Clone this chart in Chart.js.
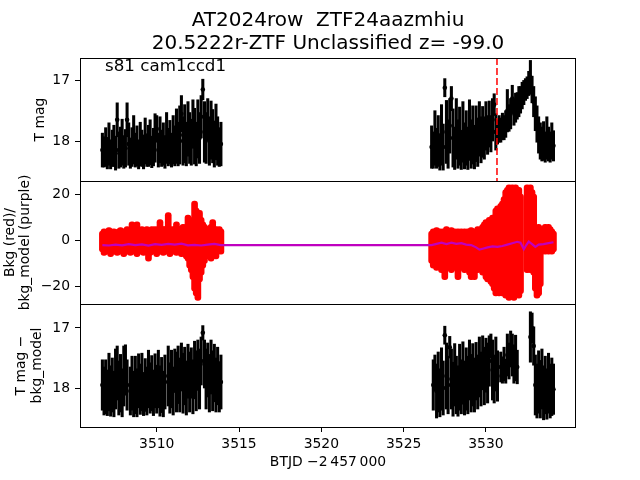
<!DOCTYPE html>
<html>
<head>
<meta charset="utf-8">
<script src="https://cdn.jsdelivr.net/npm/chart.js@4.4.1/dist/chart.umd.min.js"></script>
<style>
body { margin: 0; background: #fff; }
#wrap { position: relative; width: 640px; height: 480px; }
#wrap canvas { position: absolute; left: 0; top: 0; }
</style>
</head>
<body>
<div id="wrap">
  <canvas id="magChart" width="640" height="480"></canvas>
  <canvas id="bkgChart" width="640" height="480"></canvas>
  <canvas id="detChart" width="640" height="480"></canvas>
</div>
<script>
// axis ranges and ticks
const BTJD_MIN = 3505.34, BTJD_MAX = 3535.47;
const MAG_MIN = 16.63, MAG_MAX = 18.66;
const BKG_MIN = -27.5, BKG_MAX = 25.7;
const DET_MIN = 16.6, DET_MAX = 18.65;
const TICKS_BTJD = [3510, 3515, 3520, 3525, 3530];
const TICKS_MAG = [17, 18];
const TICKS_BKG = [-20, 0, 20];
const FLARE_BTJD = 3530.67;

// first sector chunk
const btjdS1 = [
  3506.7,3506.8,3506.9,3507.0,3507.1,3507.2,3507.3,3507.4,3507.5,3507.6,
  3507.7,3507.8,3507.9,3508.0,3508.1,3508.2,3508.3,3508.4,3508.5,3508.6,
  3508.7,3508.8,3508.9,3509.0,3509.1,3509.2,3509.3,3509.4,3509.5,3509.6,
  3509.7,3509.8,3509.9,3510.0,3510.1,3510.2,3510.3,3510.4,3510.5,3510.6,
  3510.7,3510.8,3510.9,3511.0,3511.1,3511.2,3511.3,3511.4,3511.5,3511.6,
  3511.7,3511.8,3511.9,3512.0,3512.1,3512.2,3512.3,3512.4,3512.5,3512.6,
  3512.7,3512.8,3512.9,3513.0,3513.1,3513.2,3513.3,3513.4,3513.5,3513.6,
  3513.7,3513.8,3513.9
];
const tmagS1 = [
  18.15,18.18,18.10,18.20,18.05,18.22,18.12,18.08,18.20,17.65,
  18.15,18.10,18.02,18.18,18.12,17.65,18.05,18.20,18.10,17.98,
  18.15,18.08,18.22,18.05,18.12,18.18,18.00,18.15,18.08,18.02,
  18.18,18.10,17.95,17.80,18.15,17.98,18.12,18.05,18.18,17.95,
  18.10,18.02,18.15,17.98,18.08,17.92,18.05,17.90,17.55,18.00,
  17.88,18.05,17.80,17.95,18.02,17.72,17.92,18.05,17.80,17.95,
  17.60,17.15,17.85,17.95,17.65,18.00,17.82,17.92,18.05,17.85,
  18.00,18.10,18.05
];
const tmagErrS1 = [
  .28,.25,.32,.26,.35,.24,.30,.34,.28,.28,
  .30,.33,.38,.27,.31,.28,.35,.25,.32,.40,
  .28,.33,.24,.36,.30,.28,.38,.27,.34,.37,
  .26,.31,.40,.22,.28,.38,.30,.35,.27,.42,
  .31,.36,.28,.40,.33,.45,.36,.48,.30,.40,
  .48,.36,.45,.42,.38,.40,.46,.36,.48,.42,
  .35,.17,.50,.42,.35,.40,.48,.44,.38,.46,
  .40,.32,.36
];
const bkgLoS1 = [
  -5,-6.5,-4.5,-6,-5.5,-7,-5,-6,-4.5,-6.5,
  -5.5,-6,-5,-7,-5.5,-6,-4.5,-6.5,-5,-6,
  -5.5,-7,-5,-6,-4.5,-6.5,-5.5,-6,-9,-6.5,
  -5,-6,-5.5,-7,-5,-6,-4.5,-6.5,-5.5,-6,
  -5,-7,-5.5,-6,-5,-6.5,-5.5,-6,-7,-6.5,
  -7,-8,-9,-12,-14,-17,-22,-24,-26,-18,
  -15,-12,-10,-8,-7,-6,-9,-7,-6,-8,
  -6,-5,-6
];
const bkgHiS1 = [
  4,5,4.5,4,5.5,5,4,5,4.5,4,
  5,5.5,4,5,5,6,5,5,8,5,
  6,8,5,5,6,5,5,6,5,5,
  6,5,6,5,6,9,5,6,6,5,
  12,6,5,6,6,8,6,6,6,7,
  6,7,11,8,9,10,17,14,12,13,
  10,8,7,6,6,6,7,9,6,6,
  5,6,5
];
const detS1 = [
  17.95,18.05,17.98,18.08,17.90,18.05,17.95,18.10,17.85,17.75,
  18.00,17.92,18.08,17.80,17.70,17.95,null,18.05,17.92,18.10,
  17.95,18.08,17.88,18.02,17.90,18.10,17.95,18.05,17.85,18.00,
  17.92,18.08,17.88,18.02,17.85,18.05,17.95,18.10,17.90,null,
  17.80,18.00,17.85,18.05,17.70,17.90,17.78,17.95,17.65,17.92,
  17.80,18.00,17.72,17.90,17.75,17.98,17.70,17.88,17.62,17.85,
  17.55,17.08,17.60,17.85,17.70,17.92,17.65,17.88,17.75,17.95,
  17.80,17.98,17.90
];
const detErrS1 = [
  .42,.40,.45,.38,.48,.42,.45,.38,.50,.45,
  .45,.48,.40,.50,.42,.42,null,.40,.45,.38,
  .48,.40,.45,.42,.48,.36,.44,.40,.48,.42,
  .46,.38,.45,.40,.48,.42,.46,.38,.45,null,
  .50,.42,.48,.40,.35,.50,.48,.45,.40,.50,
  .48,.45,.45,.50,.42,.45,.48,.50,.42,.50,
  .40,.12,.40,.50,.45,.48,.45,.50,.48,.45,
  .48,.42,.45
];

// second sector chunk
const btjdS2 = [
  3526.7,3526.8,3526.9,3527.0,3527.1,3527.2,3527.3,3527.4,3527.5,3527.6,
  3527.7,3527.8,3527.9,3528.0,3528.1,3528.2,3528.3,3528.4,3528.5,3528.6,
  3528.7,3528.8,3528.9,3529.0,3529.1,3529.2,3529.3,3529.4,3529.5,3529.6,
  3529.7,3529.8,3529.9,3530.0,3530.1,3530.2,3530.3,3530.4,3530.5,3530.6,
  3530.7,3530.8,3530.9,3531.0,3531.1,3531.2,3531.3,3531.4,3531.5,3531.6,
  3531.7,3531.8,3531.9,3532.0,3532.1,3532.2,3532.3,3532.4,3532.5,3532.6,
  3532.7,3532.8,3532.9,3533.0,3533.1,3533.2,3533.3,3533.4,3533.5,3533.6,
  3533.7,3533.8,3533.9,3534.0,3534.1
];
const tmagS2 = [
  18.10,18.15,17.95,18.12,18.00,18.18,17.90,18.10,17.12,17.85,
  18.05,17.75,17.30,17.95,18.12,17.80,18.05,17.92,18.15,17.85,
  18.08,17.95,18.12,17.82,18.05,17.90,18.10,17.88,18.02,17.80,
  17.98,17.85,17.95,17.75,17.90,17.72,17.88,17.65,17.40,17.85,
  17.85,17.80,17.82,17.76,17.78,17.72,17.50,17.62,17.55,17.30,
  17.52,17.45,17.42,17.35,17.32,17.25,17.20,17.15,17.12,17.05,
  16.95,17.15,17.35,17.55,17.72,17.90,18.00,18.05,18.00,18.10,
  17.95,18.05,18.10,18.00,18.08
];
const tmagErrS2 = [
  .35,.30,.45,.33,.42,.30,.50,.38,.15,.52,
  .40,.45,.20,.48,.35,.50,.40,.48,.32,.50,
  .38,.45,.35,.50,.40,.48,.36,.46,.40,.45,
  .38,.42,.35,.40,.32,.38,.30,.35,.18,.30,
  .20,.22,.20,.22,.20,.22,.35,.22,.25,.22,
  .22,.24,.22,.25,.22,.22,.20,.18,.18,.20,
  .28,.22,.25,.28,.30,.30,.30,.28,.32,.25,
  .35,.28,.25,.30,.25
];
const bkgLoS2 = [
  -10,-12,-11,-13,-10,-12,-14,-11,-17,-12,
  -13,-11,-14,-12,-13,-11,-17,-12,-13,-11,
  -14,-12,-13,-15,-17,-12,-17,-13,-14,-12,
  -13,-15,-14,-17,-18,-16,-19,-20,-22,-24,
  -22,-24,-23,-24,-22,-25,-23,-26,-24,-25,
  -26,-24,-22,-25,-23,null,null,null,-14,-13,
  -14,-12,-15,-22,-25,-24,-20,-6,-5,-6,
  -5,-6,-5,-6,-5
];
const bkgHiS2 = [
  4,5,4,5.5,4,5,4.5,5,4,6,
  5,4,5.5,4,5,4.5,5,4,5,4,
  5,4.5,5,4,5.5,4,5,4,6,5,
  6,7,8,9,8,10,9,11,10,14,
  15,14,16,17,19,22,23,24,22,24,
  23,24,21,23,20,null,null,null,24,23,
  24,22,20,6,5,7,5,6,5,7,
  6,7,6,5,4
];
const detS2 = [
  null,17.95,17.75,18.05,17.90,18.08,17.85,18.00,17.12,17.80,
  17.95,17.32,17.85,18.02,17.78,17.95,18.05,17.82,17.98,17.75,
  18.00,17.85,17.95,17.70,17.92,17.78,17.95,17.72,17.90,17.65,
  17.85,17.58,17.80,17.62,17.75,17.55,17.30,17.70,17.85,17.60,
  17.80,null,17.65,17.70,17.60,17.72,17.45,17.55,17.35,17.45,
  17.60,17.50,17.65,null,null,null,null,null,null,null,
  17.15,17.00,17.30,17.95,18.05,17.90,18.02,17.85,18.08,17.95,
  18.10,17.92,18.05,17.98,18.02
];
const detErrS2 = [
  null,.42,.30,.45,.50,.40,.52,.45,.15,.55,
  .48,.18,.50,.45,.52,.48,.42,.55,.45,.52,
  .45,.52,.48,.50,.48,.52,.45,.48,.45,.50,
  .45,.45,.48,.45,.50,.42,.20,.50,.40,.45,
  .42,null,.25,.22,.28,.20,.35,.30,.30,.35,
  .32,.38,.28,null,null,null,null,null,null,null,
  .42,.25,.32,.50,.45,.52,.48,.50,.45,.48,
  .42,.50,.45,.48,.42
];

// background model (purple)
const modelBtjd = [
  3506.7,3507.1,3507.5,3507.9,3508.3,3508.7,3509.1,3509.5,3509.9,3510.3,
  3510.7,3511.1,3511.5,3511.9,3512.3,3512.7,3513.1,3513.5,3513.9,
  3526.7,3527.0,3527.3,3527.6,3527.9,3528.2,3528.5,3528.8,3529.1,3529.4,
  3529.6,3529.8,3530.1,3530.4,3530.7,3531.0,3531.3,3531.6,3531.9,3532.1,
  3532.3,3532.45,3532.6,3532.8,3533.0,3533.2,3533.5,3533.8,3534.1
];
const modelBkg = [
  -2.0,-2.2,-1.8,-2.1,-1.6,-2.0,-1.7,-2.2,-1.6,-1.9,
  -1.5,-1.8,-1.4,-2.1,-1.9,-2.2,-1.8,-1.5,-2.0,
  -2.0,-1.5,-1.0,-1.6,-1.0,-1.5,-1.2,-1.8,-2.0,-3.0,
  -4.0,-3.6,-3.0,-2.6,-2.8,-2.4,-1.8,-1.2,-0.6,-1.0,
  -3.8,-2.0,-0.5,-1.6,-2.8,-1.8,-1.6,-1.2,-0.8
];

const PLOT_LEFT = 80, PLOT_RIGHT = 576;
const PANEL_EDGES = [58, 181, 304, 427];

Chart.defaults.font.family = "'DejaVu Sans', sans-serif";
Chart.defaults.font.size = 13.9;
Chart.defaults.color = '#000';

function errorBars(times, vals, errs) {
  return times.map((t, i) => vals[i] == null ? null : {x: t, y: [vals[i] - errs[i], vals[i] + errs[i]]}).filter(Boolean);
}
function rangeBars(times, lo, hi) {
  return times.map((t, i) => lo[i] == null ? null : {x: t, y: [lo[i], hi[i]]}).filter(Boolean);
}
function points(times, vals) {
  return times.map((t, i) => vals[i] == null ? null : {x: t, y: vals[i]}).filter(Boolean);
}

const frame = {
    id: 'frame',
    afterDraw(chart) {
        const a = chart.chartArea, ctx = chart.ctx;
        ctx.save();
        ctx.strokeStyle = '#000';
        ctx.lineWidth = 1;
        ctx.strokeRect(Math.round(a.left) + 0.5, Math.round(a.top) + 0.5,
            Math.round(a.right - a.left) - 1, Math.round(a.bottom - a.top));
        ctx.restore();
    }
};
const camLabel = {
    id: 'camLabel',
    afterDraw(chart) {
        const ctx = chart.ctx;
        ctx.save();
        ctx.font = "16.7px 'DejaVu Sans'";
        ctx.fillStyle = '#000';
        ctx.textBaseline = 'alphabetic';
        ctx.fillText('s81 cam1ccd1', chart.chartArea.left + 25, chart.chartArea.top + 12.5);
        ctx.restore();
    }
};

function xAxis(show) {
    return {
        type: 'linear', min: BTJD_MIN, max: BTJD_MAX, offset: false, display: show,
        afterBuildTicks: s => { s.ticks = TICKS_BTJD.map(v => ({value: v})); },
        afterFit: s => { s.height = show ? 480 - PANEL_EDGES[3] : 0; },
        grid: {drawOnChartArea: false, offset: false, tickLength: 5, color: '#000'},
        border: {display: false},
        ticks: {padding: 4, maxRotation: 0, autoSkip: false, callback: v => String(v)},
        title: {display: true, text: 'BTJD \u22122\u2009457\u2009000', padding: {top: 0, bottom: 9}}
    };
}
function yAxis(min, max, reverse, ticks, title, titlePad, lineHeight) {
    return {
        type: 'linear', min, max, reverse,
        afterBuildTicks: s => { s.ticks = ticks.map(v => ({value: v})); },
        afterFit: s => { s.width = PLOT_LEFT; },
        grid: {drawOnChartArea: false, tickLength: 5, color: '#000'},
        border: {display: false},
        ticks: {padding: 5, callback: v => String(v).replace('-', '\u2212')},
        title: {display: true, text: title, padding: {top: titlePad, bottom: 0}, font: {size: 13.9, lineHeight}}
    };
}
function baseOptions(top, bottom, showX) {
    return {
        responsive: false, animation: false, events: [], devicePixelRatio: 1,
        layout: {padding: {left: 0, right: 640 - PLOT_RIGHT, top, bottom}},
        plugins: {legend: {display: false}, tooltip: {enabled: false}},
        scales: {x: xAxis(showX)}
    };
}

// panel 1: T mag with error bars
const magOpts = baseOptions(0, 480 - PANEL_EDGES[1], false);
magOpts.scales.y = yAxis(MAG_MIN, MAG_MAX, true, TICKS_MAG, 'T mag', 31.6, 1.2);
magOpts.plugins.title = {
    display: true, fullSize: false, color: '#000',
    text: ['AT2024row  ZTF24aazmhiu', '20.5222r-ZTF Unclassified z= -99.0'],
    font: {size: 20, weight: 'normal', lineHeight: 1.12},
    padding: {top: 10, bottom: 3.2}
};
new Chart(document.getElementById('magChart'), {
    type: 'bar',
    data: {
        datasets: [
            {type: 'line', data: [{x: FLARE_BTJD, y: MAG_MIN}, {x: FLARE_BTJD, y: MAG_MAX}],
             borderColor: '#ff0000', borderWidth: 1.5, borderDash: [7, 3], pointRadius: 0, order: 0},
            {type: 'line', data: points(btjdS1.concat(btjdS2), tmagS1.concat(tmagS2)), showLine: false,
             pointRadius: 2.3, pointBackgroundColor: '#000', pointBorderWidth: 0, order: 1},
            {data: errorBars(btjdS1.concat(btjdS2), tmagS1.concat(tmagS2), tmagErrS1.concat(tmagErrS2)),
             backgroundColor: '#000', barThickness: 2.4, grouped: false, order: 2}
        ]
    },
    options: magOpts,
    plugins: [frame, camLabel]
});

// panel 2: background (red) and background model (purple)
const bkgOpts = baseOptions(PANEL_EDGES[1], 480 - PANEL_EDGES[2], false);
bkgOpts.scales.y = yAxis(BKG_MIN, BKG_MAX, false, TICKS_BKG, ['Bkg (red)/', 'bkg_model (purple)'], 2.8, 1.1);
new Chart(document.getElementById('bkgChart'), {
    type: 'bar',
    data: {
        datasets: [
            {type: 'line', data: points(modelBtjd, modelBkg), borderColor: '#bf00bf', borderWidth: 2.2,
             pointRadius: 0, order: 0},
            {data: rangeBars(btjdS1.concat(btjdS2), bkgLoS1.concat(bkgLoS2), bkgHiS1.concat(bkgHiS2)),
             backgroundColor: '#ff0000', barThickness: 6, borderRadius: 3, borderSkipped: false,
             grouped: false, order: 1}
        ]
    },
    options: bkgOpts,
    plugins: [frame]
});

// panel 3: T mag minus background model
const detOpts = baseOptions(PANEL_EDGES[2], 0, true);
detOpts.scales.y = yAxis(DET_MIN, DET_MAX, true, TICKS_MAG, ['T mag \u2212', 'bkg_model'], 13.7, 1.15);
new Chart(document.getElementById('detChart'), {
    type: 'bar',
    data: {
        datasets: [
            {type: 'line', data: points(btjdS1.concat(btjdS2), detS1.concat(detS2)), showLine: false,
             pointRadius: 2.3, pointBackgroundColor: '#000', pointBorderWidth: 0, order: 0},
            {data: errorBars(btjdS1.concat(btjdS2), detS1.concat(detS2), detErrS1.concat(detErrS2)),
             backgroundColor: '#000', barThickness: 2.4, grouped: false, order: 1}
        ]
    },
    options: detOpts,
    plugins: [frame]
});
</script>
</body>
</html>
